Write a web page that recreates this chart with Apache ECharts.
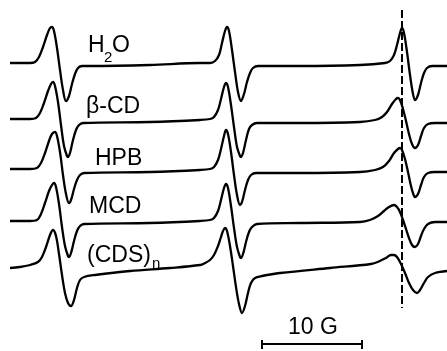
<!DOCTYPE html>
<html>
<head>
<meta charset="utf-8">
<script src="https://cdn.jsdelivr.net/npm/echarts@6/dist/echarts.min.js"></script>
<style>
  html, body { margin: 0; padding: 0; background: #fff; }
  #main { width: 447px; height: 351px; }
</style>
</head>
<body>
<div id="main"></div>
<script>
// field (G) , signal relative to each trace's baseline
var h2o = [[1.0,1],[3.0,1],[3.5,2],[3.9,7],[4.3,17],[4.7,29],[5.0,36],[5.2,37],[5.4,33],[5.7,16],[6.0,-6],[6.3,-26],[6.6,-37],[6.9,-32],[7.2,-20],[7.5,-10],[7.8,-4],[8.2,-2],[9.0,-2],[15.0,-1],[20.0,1],[21.0,1],[21.5,3],[21.9,9],[22.2,21],[22.5,33],[22.7,37],[22.9,33],[23.2,14],[23.5,-8],[23.8,-28],[24.1,-37],[24.4,-30],[24.7,-18],[25.0,-9],[25.3,-4],[25.8,-2],[30.0,-2],[36.0,-1],[38.5,1],[39.0,3],[39.4,9],[39.7,19],[40.0,31],[40.2,36],[40.4,31],[40.7,12],[41.0,-11],[41.3,-30],[41.5,-36],[41.8,-31],[42.1,-19],[42.4,-9],[42.7,-4],[43.2,-2],[44.7,-2]];
var bcd = [[1.0,0],[3.0,0],[3.6,1],[4.0,6],[4.4,16],[4.8,28],[5.1,35],[5.3,37],[5.5,33],[5.8,17],[6.1,-6],[6.4,-27],[6.7,-37],[6.8,-38],[7.0,-34],[7.3,-21],[7.6,-11],[7.9,-6],[8.3,-4],[15.0,-3],[20.0,-1],[21.0,0],[21.4,2],[21.8,9],[22.1,20],[22.4,32],[22.6,36],[22.8,32],[23.1,14],[23.4,-8],[23.7,-28],[24.0,-37],[24.1,-38],[24.3,-34],[24.6,-21],[24.9,-10],[25.2,-6],[25.7,-4],[30.0,-4],[36.0,-3],[37.5,-1],[38.2,2],[38.7,7],[39.2,15],[39.6,20],[39.8,21],[40.0,19],[40.3,10],[40.6,-2],[40.9,-15],[41.2,-25],[41.5,-29],[41.8,-26],[42.1,-17],[42.4,-9],[42.8,-5],[43.5,-4],[44.7,-4]];
var hpb = [[1.0,0],[3.0,0],[3.7,1],[4.1,6],[4.5,16],[4.9,28],[5.2,35],[5.5,37],[5.7,33],[6.0,17],[6.3,-6],[6.6,-25],[6.9,-34],[7.1,-31],[7.4,-20],[7.7,-11],[8.0,-6],[8.4,-4],[15.0,-3],[20.0,-1],[21.0,0],[21.4,2],[21.8,9],[22.1,20],[22.4,33],[22.6,39],[22.8,35],[23.1,17],[23.4,-6],[23.7,-26],[24.0,-36],[24.2,-33],[24.5,-21],[24.8,-11],[25.1,-6],[25.6,-4],[30.0,-4],[36.0,-3],[37.5,-1],[38.3,2],[38.9,8],[39.4,16],[39.8,20],[40.0,21],[40.2,19],[40.5,10],[40.8,-3],[41.1,-17],[41.3,-24],[41.5,-28],[41.8,-25],[42.1,-16],[42.4,-8],[42.8,-4],[43.5,-3],[44.7,-3]];
var mcd = [[1.0,0],[3.0,0],[3.7,1],[4.1,7],[4.5,18],[4.9,30],[5.2,36],[5.4,38],[5.6,34],[5.9,17],[6.2,-6],[6.5,-25],[6.8,-35],[6.9,-36],[7.1,-32],[7.4,-20],[7.7,-10],[8.0,-5],[8.4,-3],[15.0,-2],[20.0,0],[21.0,1],[21.4,3],[21.8,10],[22.1,21],[22.4,33],[22.6,37],[22.8,33],[23.1,15],[23.4,-7],[23.7,-26],[24.0,-36],[24.1,-37],[24.3,-33],[24.6,-21],[24.9,-11],[25.2,-6],[25.7,-3],[30.0,-2],[36.0,-1],[37.0,1],[37.8,5],[38.4,10],[38.9,14],[39.4,16],[39.7,14],[40.0,9],[40.3,1],[40.6,-8],[40.9,-17],[41.2,-24],[41.5,-26],[41.8,-23],[42.1,-15],[42.4,-8],[42.8,-3],[43.5,-1],[44.7,-1]];
var cds = [[1.0,-1],[2.0,0],[3.0,2],[3.8,5],[4.2,10],[4.6,20],[5.0,32],[5.3,37],[5.6,31],[5.9,13],[6.2,-8],[6.5,-26],[6.8,-36],[7.1,-39],[7.4,-33],[7.7,-21],[8.0,-13],[8.4,-10],[9.5,-8],[13.0,-4],[17.0,-1],[20.0,2],[20.5,4],[21.0,7],[21.4,12],[21.8,21],[22.1,30],[22.3,36],[22.5,39],[22.7,36],[23.0,21],[23.3,1],[23.6,-20],[23.9,-37],[24.2,-46],[24.5,-39],[24.8,-26],[25.1,-16],[25.5,-11],[26.2,-9],[28.0,-6],[33.0,-1],[37.1,3],[38.0,6],[38.6,9],[39.1,12],[39.4,12],[39.7,10],[40.1,3],[40.5,-6],[40.9,-16],[41.3,-23],[41.7,-26],[42.0,-23],[42.4,-16],[42.8,-10],[43.5,-6],[44.7,-4]];

var traces = [h2o, bcd, hpb, mcd, cds];
var offsets = [287, 232, 182, 130, 84];
var refField = 40.2;       // dashed marker
var barStart = 26.2;       // 10 G scale bar
var barLength = 10;

var chart = echarts.init(document.getElementById('main'), null, { renderer: 'canvas' });

var font = '"Liberation Sans", Arial, sans-serif';
function txt(x, y, s, size) {
  return {
    type: 'text', x: x, y: y,
    style: { text: s, fontSize: size, fontFamily: font, fill: '#000', verticalAlign: 'middle', align: 'left' }
  };
}

var series = traces.map(function (t, i) {
  return {
    type: 'line',
    data: t.map(function (p) { return [p[0], offsets[i] + p[1]]; }),
    showSymbol: false,
    smooth: 0.35,
    lineStyle: { color: '#000', width: 2.3 },
    silent: true
  };
});

series.push({
  type: 'line',
  data: [[refField, 341], [refField, 43]],
  showSymbol: false,
  lineStyle: { color: '#000', width: 2, type: [8, 3] },
  silent: true
});

series.push({
  type: 'line',
  data: [[barStart, 11], [barStart, 2], [barStart, 7], [barStart + barLength, 7], [barStart + barLength, 2], [barStart + barLength, 11]],
  showSymbol: false,
  lineStyle: { color: '#000', width: 2 },
  silent: true
});

var option = {
  animation: false,
  backgroundColor: '#fff',
  grid: { left: 0, right: 0, top: 0, bottom: 0 },
  xAxis: { type: 'value', min: 0, max: 44.7, show: false },
  yAxis: { type: 'value', min: 0, max: 351, show: false },
  series: series,
  graphic: [
    txt(88, 46, 'H', 23), txt(104, 58, '2', 15), txt(112, 46, 'O', 23),
    txt(86, 107, 'β-CD', 23),
    txt(95, 159, 'HPB', 23),
    txt(89, 207, 'MCD', 23),
    txt(87, 256, '(CDS)', 23), txt(152, 264, 'n', 15),
    {
      type: 'text', x: 313, y: 328,
      style: { text: '10 G', fontSize: 23, fontFamily: font, fill: '#000', verticalAlign: 'middle', align: 'center' }
    }
  ]
};

chart.setOption(option);
</script>
</body>
</html>
